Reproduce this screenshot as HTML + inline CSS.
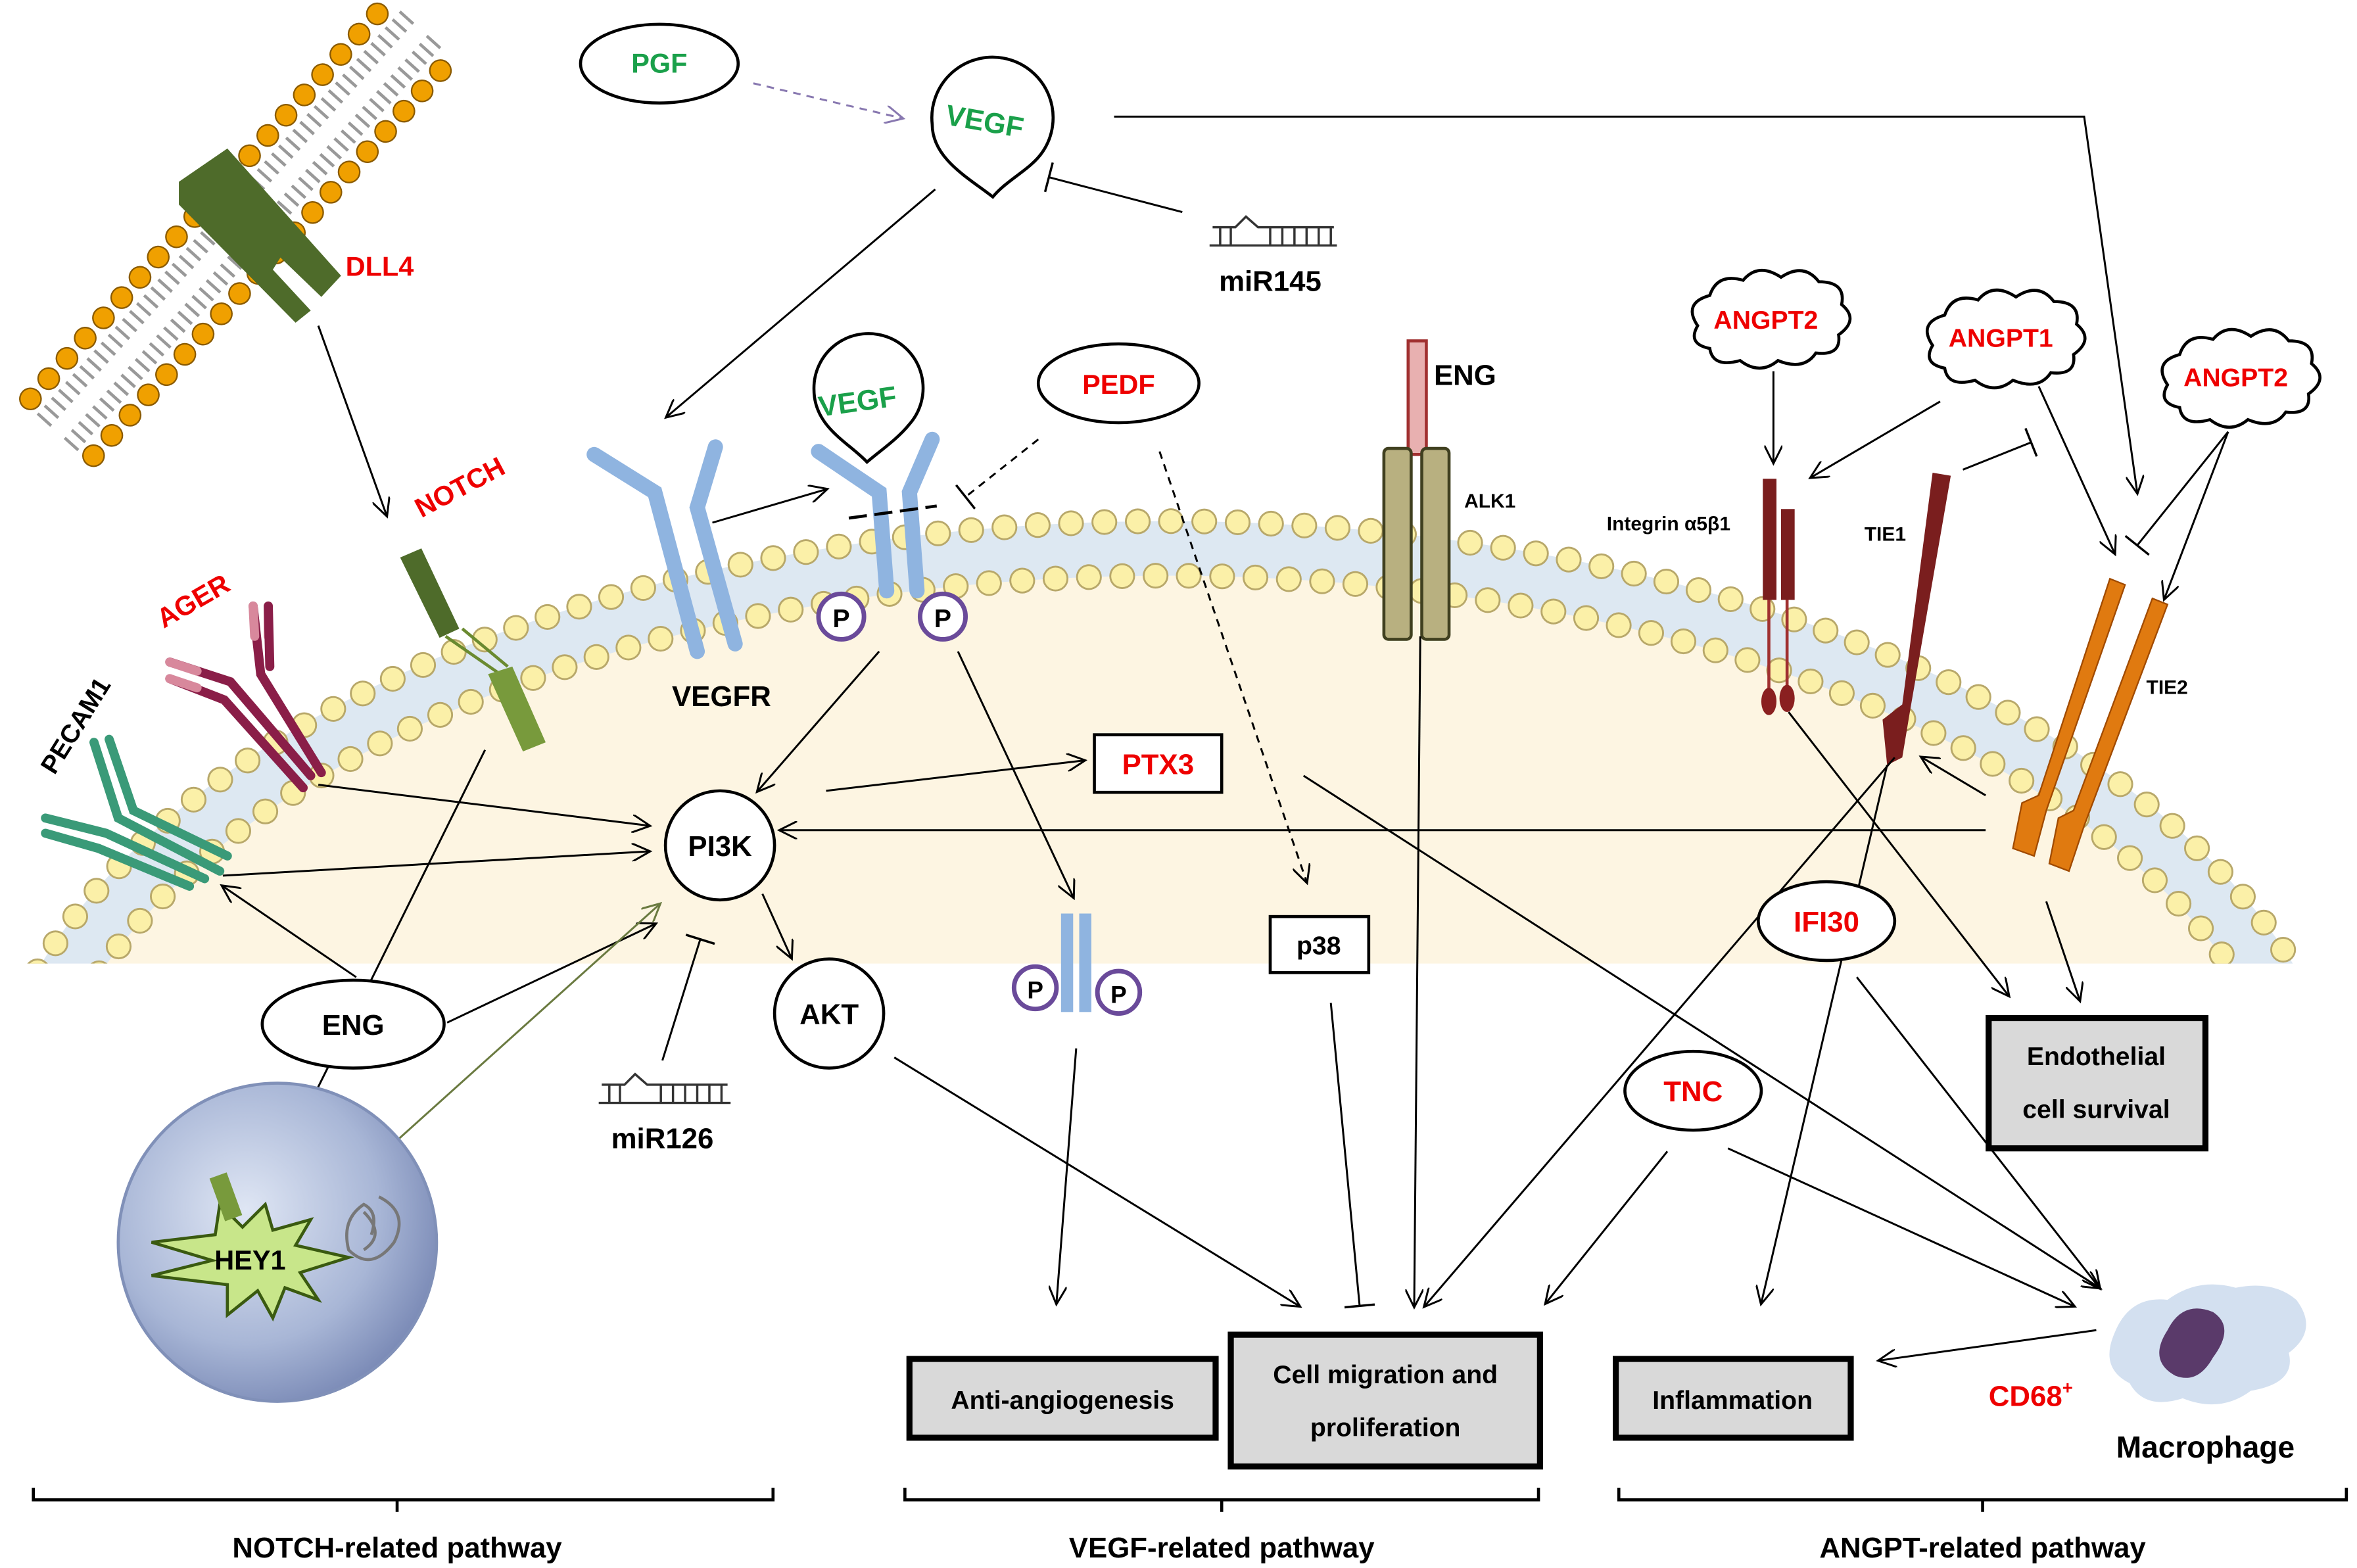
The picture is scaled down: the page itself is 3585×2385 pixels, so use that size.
<!DOCTYPE html>
<html><head><meta charset="utf-8"><style>html,body{margin:0;padding:0;background:#fff;width:3585px;height:2385px;overflow:hidden}svg{display:block}text{font-family:"Liberation Sans",sans-serif;font-weight:bold}</style></head><body>
<svg width="3585" height="2385" viewBox="0 0 1555 1035" preserveAspectRatio="none" xmlns="http://www.w3.org/2000/svg">
<defs>
<marker id="a" markerWidth="14" markerHeight="12" refX="11" refY="6" orient="auto" markerUnits="userSpaceOnUse"><path d="M0,0 L12,6 L0,12" fill="none" stroke="#000" stroke-width="1.3"/></marker>
<marker id="ap" markerWidth="14" markerHeight="12" refX="11" refY="6" orient="auto" markerUnits="userSpaceOnUse"><path d="M0,0 L12,6 L0,12" fill="none" stroke="#8878b0" stroke-width="1.3"/></marker>
<marker id="ag" markerWidth="14" markerHeight="12" refX="11" refY="6" orient="auto" markerUnits="userSpaceOnUse"><path d="M0,0 L12,6 L0,12" fill="none" stroke="#6a7a40" stroke-width="1.3"/></marker>
<marker id="t" markerWidth="4" markerHeight="20" refX="2" refY="10" orient="auto" markerUnits="userSpaceOnUse"><path d="M2,0 L2,20" stroke="#000" stroke-width="1.5"/></marker>
<clipPath id="cl"><rect x="0" y="0" width="1555" height="636"/></clipPath>
<radialGradient id="nuc" cx="0.4" cy="0.4" r="0.7"><stop offset="0" stop-color="#dfe6f4"/><stop offset="0.6" stop-color="#a8b6d6"/><stop offset="1" stop-color="#6f7fae"/></radialGradient>
</defs>
<!-- membrane -->
<g clip-path="url(#cl)">
<ellipse cx="770" cy="775" rx="748" ry="395" fill="#fdf5e2"/>
<ellipse cx="770" cy="775" rx="766" ry="413" fill="none" stroke="#dde8f2" stroke-width="36"/>
<ellipse cx="770" cy="775" rx="784" ry="431" fill="none" stroke="#b8a86a" stroke-width="17" stroke-dasharray="0 22" stroke-linecap="round"/>
<ellipse cx="770" cy="775" rx="784" ry="431" fill="none" stroke="#fbf0a8" stroke-width="14.5" stroke-dasharray="0 22" stroke-linecap="round"/>
<ellipse cx="770" cy="775" rx="748" ry="395" fill="none" stroke="#b8a86a" stroke-width="17" stroke-dasharray="0 22" stroke-linecap="round"/>
<ellipse cx="770" cy="775" rx="748" ry="395" fill="none" stroke="#fbf0a8" stroke-width="14.5" stroke-dasharray="0 22" stroke-linecap="round"/>
</g>
<!-- DLL4 membrane -->
<g transform="translate(158,152) rotate(-48)">
<rect x="-185" y="-28" width="370" height="56" fill="#fff"/>
<line x1="-180" y1="-12" x2="180" y2="-12" stroke="#999" stroke-width="12" stroke-dasharray="2 5"/>
<line x1="-180" y1="12" x2="180" y2="12" stroke="#999" stroke-width="12" stroke-dasharray="2 5"/>
<line x1="-175" y1="-28" x2="180" y2="-28" stroke="#8a5a00" stroke-width="15" stroke-dasharray="0 18" stroke-linecap="round"/>
<line x1="-175" y1="-28" x2="180" y2="-28" stroke="#f0a000" stroke-width="13" stroke-dasharray="0 18" stroke-linecap="round"/>
<line x1="-175" y1="28" x2="180" y2="28" stroke="#8a5a00" stroke-width="15" stroke-dasharray="0 18" stroke-linecap="round"/>
<line x1="-175" y1="28" x2="180" y2="28" stroke="#f0a000" stroke-width="13" stroke-dasharray="0 18" stroke-linecap="round"/>
</g>
<path d="M118,120 L150,98 L225,182 L212,196 L185,170 L180,178 L205,205 L195,213 L118,135 Z" fill="#4e6b2a"/>
<text x="228" y="182" fill="#e00" font-size="18">DLL4</text>
<line x1="210" y1="215" x2="255" y2="340" stroke="#000" stroke-width="1.3" marker-end="url(#a)"/>
<!-- NOTCH -->
<text x="0" y="0" fill="#e00" font-size="18" transform="translate(278,342) rotate(-28)">NOTCH</text>
<path d="M264,368 L278,362 L303,415 L290,421 Z" fill="#4e6b2a"/>
<line x1="294" y1="420" x2="330" y2="445" stroke="#6a8a30" stroke-width="2"/>
<line x1="305" y1="415" x2="335" y2="440" stroke="#6a8a30" stroke-width="2"/>
<path d="M322,445 L338,440 L360,490 L345,496 Z" fill="#789a3c"/>
<!-- AGER -->
<text x="0" y="0" fill="#e00" font-size="18" transform="translate(108,415) rotate(-30)">AGER</text>
<g stroke-linecap="round" fill="none">
<path d="M112,437 L152,450 L205,512" stroke="#8a1e48" stroke-width="6"/>
<path d="M112,448 L148,462 L200,520" stroke="#8a1e48" stroke-width="6"/>
<path d="M167,400 L172,445 L212,510" stroke="#8a1e48" stroke-width="6"/>
<path d="M112,437 L130,443 M112,448 L130,454 M167,400 L168,420 M177,400 L177,420" stroke="#d8889c" stroke-width="6"/>
<path d="M177,400 L178,440" stroke="#8a1e48" stroke-width="6"/>
</g>
<!-- PECAM1 -->
<text x="0" y="0" fill="#000" font-size="17" transform="translate(36,512) rotate(-58)">PECAM1</text>
<g stroke-linecap="round" fill="none" stroke="#3a9a78" stroke-width="6">
<path d="M62,490 L78,540 L145,575"/><path d="M72,488 L88,535 L150,565"/>
<path d="M30,540 L70,550 L135,580"/><path d="M30,550 L65,560 L125,585"/>
</g>
<!-- PGF / VEGF -->
<ellipse cx="435" cy="42" rx="52" ry="26" fill="#fff" stroke="#000" stroke-width="2"/>
<text x="435" y="48" fill="#1aa04a" font-size="18" text-anchor="middle">PGF</text>
<line x1="497" y1="55" x2="595" y2="78" stroke="#8878b0" stroke-width="1.3" stroke-dasharray="5 4" marker-end="url(#ap)"/>
<path d="M655,130 C640,118 615,105 615,82 A40,40 0 1 1 688,100 C680,112 665,118 655,130 Z" fill="#fff" stroke="#000" stroke-width="2"/>
<text x="0" y="0" fill="#1aa04a" font-size="19" transform="translate(623,82) rotate(10)">VEGF</text>
<polyline points="735,77 1375,77 1410,325" fill="none" stroke="#000" stroke-width="1.3" marker-end="url(#a)"/>
<line x1="780" y1="140" x2="692" y2="117" stroke="#000" stroke-width="1.3" marker-end="url(#t)"/>
<g stroke="#333" stroke-width="1.5" fill="none"><path d="M798,162 L882,162 M800,150 L815,150 L822,143 L830,150 L880,150"/><path d="M805,150 V162 M812,150 V162 M838,150 V162 M846,150 V162 M854,150 V162 M862,150 V162 M870,150 V162 M878,150 V162"/></g>
<text x="838" y="192" font-size="19" text-anchor="middle">miR145</text>
<line x1="617" y1="125" x2="440" y2="275" stroke="#000" stroke-width="1.3" marker-end="url(#a)"/>
<!-- VEGFR -->
<g stroke="#8fb4e0" stroke-width="10" stroke-linecap="round" fill="none">
<path d="M392,300 L432,325 L460,430"/><path d="M472,295 L460,335 L485,425"/>
</g>
<text x="476" y="466" font-size="19" text-anchor="middle">VEGFR</text>
<line x1="470" y1="345" x2="545" y2="323" stroke="#000" stroke-width="1.3" marker-end="url(#a)"/>
<g stroke="#8fb4e0" stroke-width="10" stroke-linecap="round" fill="none">
<path d="M540,298 L580,325 L585,390"/><path d="M615,290 L600,325 L605,390"/>
</g>
<path d="M572,305 C560,292 537,282 537,257 A36,36 0 1 1 600,280 C592,290 580,298 572,305 Z" fill="#fff" stroke="#000" stroke-width="2"/>
<text x="0" y="0" fill="#1aa04a" font-size="19" transform="translate(541,275) rotate(-8)">VEGF</text>
<line x1="560" y1="342" x2="618" y2="334" stroke="#000" stroke-width="2" stroke-dasharray="12 5"/>
<circle cx="555" cy="407" r="15" fill="#fff" stroke="#6a4a9a" stroke-width="3"/><text x="555" y="414" font-size="17" text-anchor="middle">P</text>
<circle cx="622" cy="407" r="15" fill="#fff" stroke="#6a4a9a" stroke-width="3"/><text x="622" y="414" font-size="17" text-anchor="middle">P</text>
<!-- PEDF -->
<ellipse cx="738" cy="253" rx="53" ry="26" fill="#fff" stroke="#000" stroke-width="2"/>
<text x="738" y="260" fill="#e00" font-size="18" text-anchor="middle">PEDF</text>
<line x1="685" y1="290" x2="637" y2="328" stroke="#000" stroke-width="1.3" stroke-dasharray="5 4" marker-end="url(#t)"/>
<line x1="765" y1="298" x2="862" y2="582" stroke="#000" stroke-width="1.3" stroke-dasharray="5 4" marker-end="url(#a)"/>
<!-- ENG/ALK1 -->
<rect x="929" y="225" width="12" height="75" fill="#e8b0b0" stroke="#a03030" stroke-width="2"/>
<rect x="913" y="296" width="18" height="126" rx="3" fill="#b8b080" stroke="#404020" stroke-width="2"/>
<rect x="938" y="296" width="18" height="126" rx="3" fill="#b8b080" stroke="#404020" stroke-width="2"/>
<text x="946" y="254" font-size="19">ENG</text>
<text x="966" y="335" font-size="13" font-weight="normal">ALK1</text>
<line x1="937" y1="420" x2="933" y2="862" stroke="#000" stroke-width="1.3" marker-end="url(#a)"/>
<!-- clouds -->
<g fill="#fff" stroke="#000" stroke-width="2">
<path d="M1120,215 q-10,-15 8,-20 q5,-15 22,-10 q10,-12 25,-2 q15,-10 25,3 q18,0 15,15 q12,10 -2,20 q2,14 -15,12 q-8,12 -25,5 q-12,10 -25,0 q-18,5 -20,-8 q-15,-3 -8,-15 z"/>
<path d="M1275,228 q-10,-15 8,-20 q5,-15 22,-10 q10,-12 25,-2 q15,-10 25,3 q18,0 15,15 q12,10 -2,20 q2,14 -15,12 q-8,12 -25,5 q-12,10 -25,0 q-18,5 -20,-8 q-15,-3 -8,-15 z"/>
<path d="M1430,254 q-10,-15 8,-20 q5,-15 22,-10 q10,-12 25,-2 q15,-10 25,3 q18,0 15,15 q12,10 -2,20 q2,14 -15,12 q-8,12 -25,5 q-12,10 -25,0 q-18,5 -20,-8 q-15,-3 -8,-15 z"/>
</g>
<text x="1165" y="217" fill="#e00" font-size="17" text-anchor="middle">ANGPT2</text>
<text x="1320" y="229" fill="#e00" font-size="17" text-anchor="middle">ANGPT1</text>
<text x="1475" y="255" fill="#e00" font-size="17" text-anchor="middle">ANGPT2</text>
<g stroke="#000" stroke-width="1.3" fill="none">
<line x1="1170" y1="245" x2="1170" y2="305" marker-end="url(#a)"/>
<line x1="1280" y1="265" x2="1195" y2="315" marker-end="url(#a)"/>
<line x1="1295" y1="310" x2="1340" y2="292" marker-end="url(#t)"/>
<line x1="1345" y1="255" x2="1395" y2="365" marker-end="url(#a)"/>
<line x1="1470" y1="285" x2="1410" y2="360" marker-end="url(#t)"/>
<line x1="1470" y1="285" x2="1428" y2="395" marker-end="url(#a)"/>
</g>
<text x="1060" y="350" font-size="13" font-weight="normal">Integrin α5β1</text>
<rect x="1163" y="316" width="9" height="80" fill="#7a1e1e"/><rect x="1175" y="336" width="9" height="60" fill="#7a1e1e"/>
<line x1="1167" y1="396" x2="1167" y2="455" stroke="#a03030" stroke-width="2"/><line x1="1179" y1="396" x2="1179" y2="455" stroke="#a03030" stroke-width="2"/>
<ellipse cx="1167" cy="463" rx="5" ry="9" fill="#8a2020"/><ellipse cx="1179" cy="461" rx="5" ry="9" fill="#8a2020"/>
<text x="1230" y="357" font-size="13" font-weight="normal">TIE1</text>
<path d="M1275,312 L1287,314 L1260,470 L1255,500 L1245,505 L1242,475 L1255,465 Z" fill="#7a1e1e"/>
<text x="1416" y="458" font-size="13" font-weight="normal">TIE2</text>
<g fill="#e07a10" stroke="#a04a00" stroke-width="1">
<path d="M1392,382 L1402,386 L1350,535 L1342,565 L1328,560 L1334,530 L1345,525 Z"/>
<path d="M1420,395 L1430,399 L1375,545 L1365,575 L1352,570 L1358,540 L1368,535 Z"/>
</g>
<line x1="1310" y1="525" x2="1268" y2="500" stroke="#000" stroke-width="1.3" marker-end="url(#a)"/>
<!-- PI3K -->
<line x1="1310" y1="548" x2="515" y2="548" stroke="#000" stroke-width="1.3" marker-end="url(#a)"/>
<circle cx="475" cy="558" r="36" fill="#fff" stroke="#000" stroke-width="2"/>
<text x="475" y="565" font-size="19" text-anchor="middle">PI3K</text>
<rect x="722" y="485" width="84" height="38" fill="#fff" stroke="#000" stroke-width="2"/>
<text x="764" y="511" fill="#e00" font-size="19" text-anchor="middle">PTX3</text>
<g stroke="#000" stroke-width="1.3" fill="none">
<line x1="545" y1="522" x2="715" y2="502" marker-end="url(#a)"/>
<line x1="580" y1="430" x2="500" y2="522" marker-end="url(#a)"/>
<line x1="210" y1="518" x2="428" y2="545" marker-end="url(#a)"/>
<line x1="147" y1="578" x2="428" y2="562" marker-end="url(#a)"/>
<line x1="235" y1="645" x2="147" y2="585" marker-end="url(#a)"/>
<line x1="295" y1="675" x2="432" y2="610" marker-end="url(#a)"/>
<line x1="320" y1="495" x2="180" y2="778" marker-end="url(#a)"/>
<line x1="437" y1="700" x2="462" y2="620" marker-end="url(#t)"/>
<line x1="503" y1="590" x2="522" y2="632" marker-end="url(#a)"/>
<line x1="590" y1="698" x2="857" y2="862" marker-end="url(#a)"/>
<line x1="632" y1="430" x2="708" y2="592" marker-end="url(#a)"/>
<line x1="710" y1="692" x2="697" y2="860" marker-end="url(#a)"/>
<line x1="878" y1="662" x2="897" y2="862" marker-end="url(#t)"/>
<line x1="860" y1="512" x2="1385" y2="850" marker-end="url(#a)"/>
<line x1="1250" y1="500" x2="940" y2="862" marker-end="url(#a)"/>
<line x1="1245" y1="505" x2="1162" y2="860" marker-end="url(#a)"/>
<line x1="1225" y1="645" x2="1385" y2="850" marker-end="url(#a)"/>
<line x1="1100" y1="760" x2="1020" y2="860" marker-end="url(#a)"/>
<line x1="1140" y1="758" x2="1368" y2="862" marker-end="url(#a)"/>
<line x1="1180" y1="470" x2="1325" y2="657" marker-end="url(#a)"/>
<line x1="1350" y1="595" x2="1372" y2="660" marker-end="url(#a)"/>
<line x1="1383" y1="878" x2="1240" y2="898" marker-end="url(#a)"/>
</g>
<line x1="215" y1="795" x2="435" y2="597" stroke="#6a7a40" stroke-width="1.3" marker-end="url(#ag)"/>
<ellipse cx="233" cy="676" rx="60" ry="29" fill="#fff" stroke="#000" stroke-width="2"/>
<text x="233" y="683" font-size="19" text-anchor="middle">ENG</text>
<g stroke="#333" stroke-width="1.5" fill="none"><path d="M395,728 L482,728 M397,716 L412,716 L419,709 L427,716 L480,716"/><path d="M402,716 V728 M409,716 V728 M436,716 V728 M444,716 V728 M452,716 V728 M460,716 V728 M468,716 V728 M476,716 V728"/></g>
<text x="437" y="758" font-size="19" text-anchor="middle">miR126</text>
<circle cx="547" cy="669" r="36" fill="#fff" stroke="#000" stroke-width="2"/>
<text x="547" y="676" font-size="19" text-anchor="middle">AKT</text>
<rect x="700" y="603" width="8" height="65" fill="#8fb4e0"/><rect x="712" y="603" width="8" height="65" fill="#8fb4e0"/>
<circle cx="683" cy="652" r="14" fill="#fff" stroke="#6a4a9a" stroke-width="3"/><text x="683" y="659" font-size="16" text-anchor="middle">P</text>
<circle cx="738" cy="655" r="14" fill="#fff" stroke="#6a4a9a" stroke-width="3"/><text x="738" y="662" font-size="16" text-anchor="middle">P</text>
<rect x="838" y="605" width="65" height="37" fill="#fff" stroke="#000" stroke-width="2"/>
<text x="870" y="630" font-size="17" text-anchor="middle">p38</text>
<ellipse cx="1205" cy="608" rx="45" ry="26" fill="#fff" stroke="#000" stroke-width="2"/>
<text x="1205" y="615" fill="#e00" font-size="19" text-anchor="middle">IFI30</text>
<ellipse cx="1117" cy="720" rx="45" ry="26" fill="#fff" stroke="#000" stroke-width="2"/>
<text x="1117" y="727" fill="#e00" font-size="19" text-anchor="middle">TNC</text>
<!-- boxes -->
<g fill="#d9d9d9" stroke="#000" stroke-width="4">
<rect x="1312" y="672" width="143" height="86"/>
<rect x="600" y="897" width="202" height="52"/>
<rect x="812" y="881" width="204" height="87"/>
<rect x="1066" y="897" width="155" height="52"/>
</g>
<text x="1383" y="703" font-size="17" text-anchor="middle">Endothelial</text>
<text x="1383" y="738" font-size="17" text-anchor="middle">cell survival</text>
<text x="701" y="930" font-size="17" text-anchor="middle">Anti-angiogenesis</text>
<text x="914" y="913" font-size="17" text-anchor="middle">Cell migration and</text>
<text x="914" y="948" font-size="17" text-anchor="middle">proliferation</text>
<text x="1143" y="930" font-size="17" text-anchor="middle">Inflammation</text>
<!-- macrophage -->
<path d="M1395,880 q10,-25 35,-22 q20,-15 45,-8 q25,-5 40,8 q15,20 -5,35 q5,20 -25,25 q-20,15 -45,5 q-25,8 -35,-10 q-20,-10 -10,-33 z" fill="#c8d8ec" opacity="0.8"/>
<path d="M1430,878 q10,-20 30,-12 q15,10 0,30 q-10,18 -25,12 q-18,-10 -5,-30 z" fill="#5a3a6a"/>
<text x="1312" y="928" fill="#e00" font-size="19">CD68<tspan font-size="12" dy="-8">+</tspan></text>
<text x="1455" y="962" font-size="20" text-anchor="middle">Macrophage</text>
<!-- nucleus -->
<circle cx="183" cy="820" r="105" fill="url(#nuc)" stroke="#8090b8" stroke-width="2"/>
<path d="M250,790 q20,10 10,30 q-15,20 -30,5 q-5,-20 10,-30 q10,5 5,20 M240,800 q15,15 0,25" fill="none" stroke="#777" stroke-width="2"/>
<path d="M145,795 L160,810 L175,795 L180,812 L205,805 L195,822 L230,830 L198,840 L210,858 L188,850 L180,870 L170,852 L150,868 L150,848 L100,842 L140,832 L100,820 L142,815 Z" fill="#c8e68a" stroke="#3a5a10" stroke-width="2"/>
<rect x="143" y="775" width="12" height="30" fill="#789a3c" transform="rotate(-20 149 790)"/>
<text x="165" y="838" font-size="18" text-anchor="middle">HEY1</text>
<!-- braces -->
<g stroke="#000" stroke-width="2" fill="none">
<path d="M22,982 V990 H510 V982 M262,990 V998"/>
<path d="M597,982 V990 H1015 V982 M806,990 V998"/>
<path d="M1068,982 V990 H1548 V982 M1308,990 V998"/>
</g>
<text x="262" y="1028" font-size="19" text-anchor="middle">NOTCH-related pathway</text>
<text x="806" y="1028" font-size="19" text-anchor="middle">VEGF-related pathway</text>
<text x="1308" y="1028" font-size="19" text-anchor="middle">ANGPT-related pathway</text>
</svg>
</body></html>
